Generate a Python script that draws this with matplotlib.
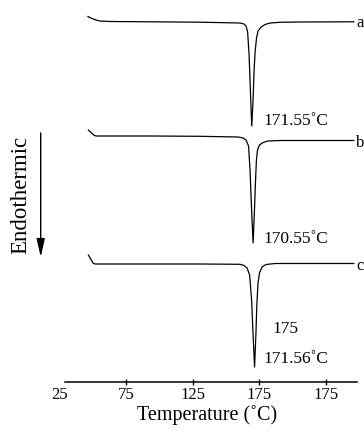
import matplotlib
matplotlib.use('Agg')
import matplotlib.pyplot as plt

plt.rcParams['font.family'] = ['Liberation Serif', 'DejaVu Serif']

# DSC traces: temperature (C) and heat flow (a.u., offset per curve)
temp_a = [46.5, 49.5, 52.5, 55.5, 63.0, 93.0, 130.5, 160.5, 163.5, 165.0, 166.2, 167.3,
          168.4, 169.3, 170.3, 171.0, 171.8, 172.9, 174.0, 176.3, 179.3, 183.0, 190.5, 205.5, 245.8]
flow_a = [365.5, 363.5, 362, 361, 360.5, 360.2, 359.8, 359, 358, 356, 350, 327,
          287, 256, 282, 310, 330, 344, 351, 355, 357.5, 359, 359.7, 360, 360.2]

temp_b = [46.8, 48.8, 50.7, 52.5, 93.0, 130.5, 159.0, 162.8, 165.0, 166.9, 168.0, 169.2,
          170.3, 171.2, 172.0, 172.8, 173.6, 175.1, 177.8, 181.5, 190.5, 245.8]
flow_b = [252, 249.5, 247, 246, 246, 245.7, 245, 244, 242, 236, 212, 172,
          139, 167, 197, 222, 232, 237, 239.5, 241, 241.5, 241.5]

temp_c = [46.8, 48.4, 50.3, 51.8, 93.0, 130.5, 160.5, 163.5, 165.8, 167.7, 169.2, 170.3,
          171.4, 172.4, 173.1, 174.0, 175.1, 177.0, 180.0, 186.8, 245.8]
flow_c = [127, 123.5, 119, 118, 118, 118, 117.7, 116.5, 114, 107, 82, 47,
          15, 47, 77, 99, 109, 115, 117.5, 118.5, 118.5]

tick_pos = [25, 75, 125, 175, 225]
tick_labels = ['25', '75', '125', '175', '175']

fig = plt.figure(figsize=(3.64, 4.40), dpi=100)
ax = fig.add_axes([52.6 / 364, 58 / 440, 306.8 / 364, 377 / 440])

for t, f in [(temp_a, flow_a), (temp_b, flow_b), (temp_c, flow_c)]:
    ax.plot(t, f, color='black', lw=0.9)

ax.set_xlim(20, 250)
ax.set_ylim(0, 377)

for side in ['top', 'right', 'left']:
    ax.spines[side].set_visible(False)
ax.spines['bottom'].set_bounds(29.3, 248)
ax.spines['bottom'].set_linewidth(1.1)
ax.set_yticks([])
ax.set_xticks(tick_pos)
ax.set_xticklabels(tick_labels)
ax.tick_params(axis='x', direction='inout', length=5, width=1, pad=1.0, labelsize=12)
ax.xaxis.get_major_ticks()[0].tick1line.set_visible(False)

ax.text(247.6, 355, 'a', fontsize=12, va='baseline')
ax.text(247.6, 235, 'b', fontsize=12, va='baseline')
ax.text(247.6, 112, 'c', fontsize=12, va='baseline')

ax.text(177.8, 257, '171.55˚C', fontsize=12.5, va='baseline')
ax.text(177.8, 139, '170.55˚C', fontsize=12.5, va='baseline')
ax.text(184.5, 49, '175', fontsize=12.5, va='baseline')
ax.text(177.8, 19, '171.56˚C', fontsize=12.5, va='baseline')

fig.text(21 / 364, 1 - 195 / 440, 'Endothermic', rotation=90, fontsize=16.5,
         ha='center', va='center')
ax.annotate('', xy=(40.7 / 364, 1 - 257 / 440), xytext=(40.7 / 364, 1 - 133 / 440),
            xycoords='figure fraction', textcoords='figure fraction',
            arrowprops=dict(arrowstyle='-|>,head_length=1.1,head_width=0.25',
                            color='black', lw=1, mutation_scale=10, shrinkA=0, shrinkB=0))

fig.text(207 / 364, 1 - 415 / 440, 'Temperature (˚C)', fontsize=14.5, ha='center', va='center')

plt.savefig('out.png', dpi=100)
